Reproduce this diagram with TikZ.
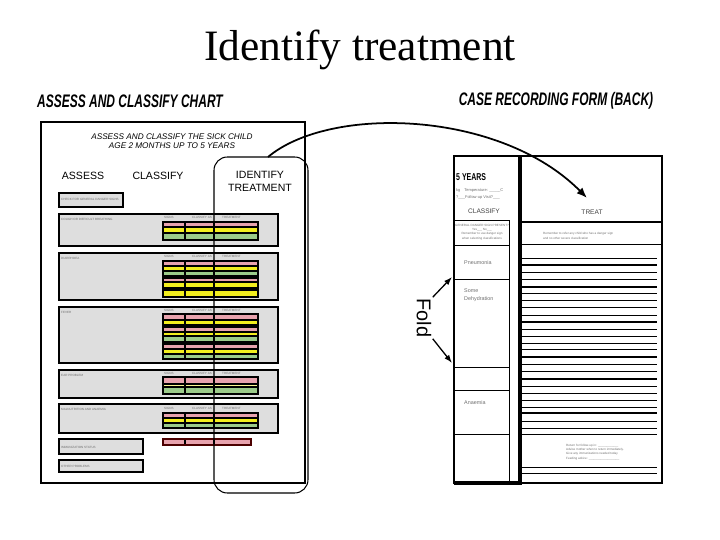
\documentclass[tikz,border=0pt]{standalone}
\usepackage{fontspec}
\setmainfont{Liberation Serif}
\setsansfont{Liberation Sans}
\usetikzlibrary{arrows.meta}
\definecolor{rowpink}{HTML}{E8A3AE}
\definecolor{rowyellow}{HTML}{F2EE1E}
\definecolor{rowgreen}{HTML}{9CCB8A}
\definecolor{panelgray}{HTML}{DEDEDE}
\definecolor{smalltext}{HTML}{6E6E6E}

\newcommand{\colblock}[3]{%
  \foreach \ya/\yb/\c in {#3} {\fill[\c] (163,\ya) rectangle (258,\yb); \draw[rowline] (163,\ya) -- (258,\ya);}
  \draw[colline] (185,#1) -- (185,#2) (214,#1) -- (214,#2);
  \draw[blockline] (163,#1) rectangle (258,#2);}

\begin{document}
\begin{tikzpicture}[x=0.03cm, y=-0.03cm,
      title/.style={font=\rmfamily\fontsize{37}{40}\selectfont, inner sep=0, anchor=base},
      sheethead/.style={font=\sffamily\bfseries\itshape\fontsize{15.5}{16}\selectfont, inner sep=0},
      subhead/.style={font=\sffamily\itshape\fontsize{7}{8}\selectfont, inner sep=0},
      colhead/.style={font=\sffamily\fontsize{9}{11}\selectfont, inner sep=0, align=center},
      formhead/.style={font=\sffamily\fontsize{5.6}{6}\selectfont, text=black!75, inner sep=0},
      small/.style={font=\sffamily\fontsize{4.6}{6.8}\selectfont, text=smalltext, inner sep=0, anchor=west, align=left},
      tiny/.style={font=\sffamily\fontsize{2.6}{3.6}\selectfont, text=smalltext, inner sep=0, anchor=west, align=left},
      panel/.style={draw, line width=1.2pt, fill=panelgray},
      rowline/.style={line width=1.1pt},
      colline/.style={line width=0.9pt},
      blockline/.style={line width=1.6pt},
      thinline/.style={line width=0.7pt},
      thickline/.style={line width=1.8pt},
      bigarrow/.style={-{Latex[length=9pt, width=7pt]}, line width=1.5pt},
      foldarrow/.style={-{Latex[length=7pt, width=5pt]}, line width=1.1pt},
    ]
    \useasboundingbox (0,0) rectangle (720,540);
    \node[title] (title) at (360,61) {Identify treatment};

    \node[sheethead] (charthead) at (130,101) {\scalebox{0.66}[1]{ASSESS AND CLASSIFY CHART}};
    \node[sheethead] (formtitle) at (556,101) {\scalebox{0.66}[1]{CASE RECORDING FORM (BACK)}};

    \draw[line width=0.9pt] (41,122) rectangle (305,483);
    \draw[line width=1.8pt] (41,483) -- (305,483);
    \node[subhead] (sick) at (172,137) {ASSESS AND CLASSIFY THE SICK CHILD};
    \node[subhead] (age) at (172,146) {AGE 2 MONTHS UP TO 5 YEARS};
    \node[colhead] (assess) at (83,176) {ASSESS};
    \node[colhead] (classify) at (158,176) {CLASSIFY};
    \node[colhead] (identify) at (260,181) {IDENTIFY\\TREATMENT};

    \draw[panel] (59,193) rectangle (123,207);
    \draw[panel] (59,214) rectangle (278,246);
    \draw[panel] (59,253) rectangle (278,300);
    \draw[panel] (59,307) rectangle (278,363);
    \draw[panel] (59,370) rectangle (278,398);
    \draw[panel] (59,404) rectangle (278,433);
    \draw[panel] (59,439) rectangle (143,454);
    \draw[panel] (59,460) rectangle (143,472);

    \node[tiny] (danger) at (61,199) {CHECK FOR GENERAL DANGER SIGNS};
    \node[tiny] (cough) at (61,219) {COUGH OR DIFFICULT BREATHING};
    \node[tiny] (diarrhoea) at (61,258) {DIARRHOEA};
    \node[tiny] (fever) at (61,312) {FEVER};
    \node[tiny] (ear) at (61,375) {EAR PROBLEM};
    \node[tiny] (malnutrition) at (61,409) {MALNUTRITION AND ANAEMIA};
    \node[tiny] (immunization) at (61,447) {IMMUNIZATION STATUS};
    \node[tiny] (other) at (61,466) {OTHER PROBLEMS};

    \foreach \y in {217,256,310,373,408} {
      \node[tiny] at (164,\y) {SIGNS};
      \node[tiny] at (192,\y) {CLASSIFY AS};
      \node[tiny] at (222,\y) {TREATMENT};
    }

    \colblock{222}{240}{222/227/rowpink, 227/233/rowyellow, 233/240/rowgreen}
    \colblock{261}{276}{261/266/rowpink, 266/271/rowyellow, 271/276/rowgreen}
    \colblock{278}{288}{278/282/rowpink, 282/288/rowyellow}
    \colblock{290}{297}{290/297/rowyellow}
    \colblock{314}{325}{314/320/rowpink, 320/325/rowyellow}
    \colblock{327}{342}{327/332/rowpink, 332/336/rowyellow, 336/342/rowgreen}
    \colblock{344}{359}{344/349/rowpink, 349/354/rowyellow, 354/359/rowgreen}
    \colblock{377}{394}{377/384/rowpink, 384/387/rowyellow!50, 387/394/rowgreen}
    \colblock{413}{428}{413/418/rowpink, 418/423/rowyellow, 423/428/rowgreen}
    \fill[rowpink] (163,439) rectangle (251,445);
    \draw[colline] (185,439) -- (185,445) (214,439) -- (214,445);
    \draw[line width=1.3pt, black!70!red] (163,439) rectangle (251,445);

    \draw[line width=0.9pt, rounded corners=0.4cm] (214,157) rectangle (308,493);

    \draw[line width=0.9pt] (454,156) rectangle (662,483);
    \draw[line width=2pt] (454,156) -- (662,156);
    \draw[line width=2.6pt] (520,156) -- (520,483);
    \draw[thinline] (454,220) -- (509,220) -- (509,483);
    \draw[line width=2.6pt] (454,483) -- (522,483);
    \draw[line width=2pt] (520,222) -- (662,222);
    \draw[thinline] (520,244) -- (662,244);
    \foreach \y in {245,279,367,390,434}
      \draw[thinline] (454,\y) -- (509,\y);
    \foreach \y in {258,272,279,293,300,307,315,329,336,343,349,364,371,386,393,400,407,421,428,434,467,473}
      \draw[thinline] (520,\y) -- (657,\y);
    \foreach \y in {265,287,322,357,379,413}
      \draw[thickline] (520,\y) -- (657,\y);

    \node[font=\sffamily\bfseries\fontsize{8.5}{9}\selectfont, inner sep=0, anchor=west] (years) at (456,177) {\scalebox{0.7}[1]{5 YEARS}};
    \node[tiny, font=\sffamily\fontsize{3.4}{6}\selectfont] (temp) at (456,190) {kg\quad Temperature: \_\_\_\_\_C};
    \node[tiny, font=\sffamily\fontsize{3.4}{6}\selectfont] (visit) at (456,197) {?\_\_\_Follow-up Visit?\_\_\_};
    \node[formhead] (formclassify) at (484,211) {CLASSIFY};
    \node[formhead] (treat) at (592,212) {TREAT};
    \node[tiny, anchor=center, align=center] (dangerq) at (482,232) {GENERAL DANGER SIGN PRESENT?\\Yes\_\_\_ No\_\_\_\\Remember to use danger sign\\when selecting classifications};
    \node[small] (pneumonia) at (464,263) {Pneumonia};
    \node[small] (dehydration) at (464,295) {Some\\Dehydration};
    \node[small] (anaemia) at (464,403) {Anaemia};
    \node[tiny] (refer) at (543,236) {Remember to refer any child who has a danger sign\\and no other severe classification};
    \node[tiny] (followup) at (566,452) {Return for follow-up in: \_\_\_\_\_\_\_\_\_\_\_\_\\Advise mother when to return immediately.\\Give any immunizations needed today\\Feeding advice: \_\_\_\_\_\_\_\_\_\_\_\_\_\_\_\_\_\_};

    \coordinate (idtop) at (268,157);
    \coordinate (treattip) at (587,198);
    \draw[bigarrow] (idtop) .. controls (330,105) and (500,110) .. (treattip);

    \node[font=\sffamily\fontsize{17}{18}\selectfont, inner sep=1pt, rotate=-90] (fold) at (424,318) {Fold};
    \coordinate (foldup) at (452,277);
    \coordinate (folddown) at (452,363);
    \draw[foldarrow] (fold.north west) -- (foldup);
    \draw[foldarrow] (fold.north east) -- (folddown);
  \end{tikzpicture}
\end{document}
